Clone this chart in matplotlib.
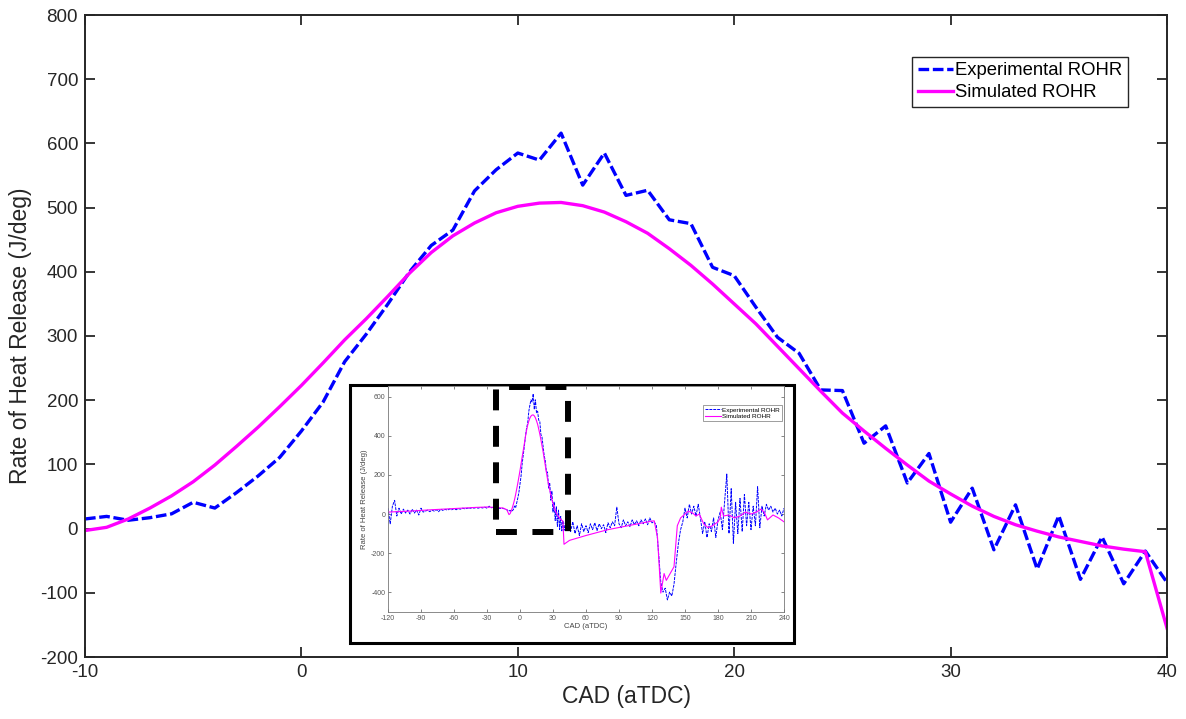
import matplotlib
matplotlib.use('Agg')
import matplotlib.pyplot as plt
import numpy as np
from matplotlib.patches import Rectangle

plt.rcParams['font.family'] = ['Liberation Sans', 'DejaVu Sans']
plt.rcParams['axes.unicode_minus'] = False

# main window, -10..40 CAD
cad = list(range(-10, 41))
exp_rohr = [15, 19, 13, 17, 23, 41, 32, 56, 82, 111,
            152, 197, 260, 303, 350, 400, 441, 465, 526, 559,
            585, 574, 616, 535, 585, 519, 527, 481, 475, 407,
            394, 345, 298, 273, 216, 215, 133, 160, 71, 117,
            10, 63, -33, 37, -63, 20, -79, -13, -86, -35, -84]
sim_rohr = [-3, 2, 15, 32, 51, 73, 99, 128, 158, 190,
            223, 258, 294, 327, 362, 398, 430, 456, 476, 492,
            502, 507, 508, 503, 493, 478, 460, 436, 410, 381,
            350, 319, 284, 249, 214, 180, 152, 125, 99, 74,
            54, 35, 19, 6, -4, -13, -20, -27, -32, -36, -155]

# inset: rest of the cycle
pre_cad = list(range(-120, -10, 2))
pre_exp = [30, -50, 40, 70, -10, 30, 0, 25, 5, 20,
           0, 25, 5, 20, -5, 30, 10, 15, 20, 12,
           20, 15, 22, 12, 25, 18, 24, 20, 26, 22,
           28, 22, 27, 25, 30, 26, 30, 28, 32, 30,
           33, 30, 34, 31, 35, 30, 40, 32, 35, 30,
           32, 28, 30, 26, 22]
post_cad = list(range(42, 241, 2))
post_exp = [-20, -60, -90, -40, -100, -60, -110, -50, -90, -60,
            -95, -50, -80, -45, -85, -50, -75, -55, -95, -45,
            -70, -40, -60, 35, -50, -70, -30, -60, -40, -65,
            -30, -55, -35, -60, -30, -50, -25, -55, -20, -45,
            -40, -60, -200, -350, -400, -380, -440, -400, -420, -360,
            -250, -150, -80, -40, 30, -20, 50, 0, 40, -10,
            50, -20, -100, -40, -120, -50, -90, -20, -120, -30,
            10, -80, 60, 205, -100, 130, -150, 60, -100, 80,
            -90, 100, -60, 60, -80, 40, -60, 140, -70, 40,
            -10, 50, 20, 40, 10, 30, 0, 20, -10, 30]
pre_sim_cad = [-120, -100, -80, -60, -40, -30, -20, -15, -12]
pre_sim = [10, 15, 22, 28, 34, 36, 33, 30, 22]
post_sim_cad = [45, 60, 80, 100, 120, 122, 125, 128, 131, 133,
                137, 140, 143, 146, 150, 153, 157, 160, 163, 167,
                171, 175, 180, 182, 183, 185, 190, 195, 200, 205,
                210, 215, 219, 222, 225, 230, 235, 240]
post_sim = [-135, -110, -80, -58, -36, -35, -120, -405, -305, -340,
            -300, -270, -60, -20, 0, 15, 5, -10, 0, -50,
            -70, -60, -40, -20, 35, -10, -5, -20, -10, 10,
            0, 10, 25, 10, -30, -5, -20, -40]

blue = '#0000ff'
mag = '#ff00ff'
dark = '#262626'

fig = plt.figure(figsize=(11.86, 7.19), dpi=100)
ax = fig.add_axes([85/1186, 62/719, 1082/1186, 642/719])

ax.plot(cad, exp_rohr, color=blue, lw=2.4, linestyle=(0, (3.2, 1.1)), label='Experimental ROHR')
ax.plot(cad, sim_rohr, color=mag, lw=2.4, label='Simulated ROHR')
ax.set_xlim(-10, 40)
ax.set_ylim(-200, 800)
ax.set_xticks(range(-10, 41, 10))
ax.set_yticks(range(-200, 801, 100))
ax.tick_params(direction='in', length=7, width=1.3, colors=dark, labelsize=13.5,
               top=True, right=True, pad=5)
for s in ax.spines.values():
    s.set_color(dark)
    s.set_linewidth(1.4)
ax.set_xlabel('CAD (aTDC)', fontsize=16.5, color=dark, labelpad=3)
ax.set_ylabel('Rate of Heat Release (J/deg)', fontsize=16.5, color=dark, labelpad=6)
leg = ax.legend(loc='upper right', bbox_to_anchor=(0.964, 0.935), fontsize=13.3,
                handlelength=1.9, handletextpad=0.12, borderpad=0.3, borderaxespad=0,
                labelspacing=0.28, fancybox=False, framealpha=1)
leg.get_frame().set_edgecolor(dark)
leg.get_frame().set_linewidth(1.0)

# inset picture with outer frame
fig.add_artist(Rectangle((350/1186, 76/719), 444/1186, 258/719, transform=fig.transFigure,
                         facecolor='white', edgecolor='black', lw=2.2, zorder=3))
ins = fig.add_axes([388/1186, 107/719, 396/1186, 226/719], zorder=4)
in_cad = pre_cad + cad + post_cad
in_exp = pre_exp + exp_rohr + post_exp
in_sim_cad = pre_sim_cad + cad + post_sim_cad
in_sim = pre_sim + sim_rohr + post_sim
ins.plot(in_cad, in_exp, color=blue, lw=0.7, linestyle=(0, (3, 1)), label='Experimental ROHR')
ins.plot(in_sim_cad, in_sim, color=mag, lw=0.8, label='Simulated ROHR')
ins.set_xlim(-120, 240)
ins.set_ylim(-502, 656)
ins.set_xticks(range(-120, 241, 30))
ins.set_yticks(range(-400, 601, 200))
ins.tick_params(direction='in', length=2.5, width=0.5, colors='#555555', labelsize=5,
                top=True, right=True, pad=2)
for s in ins.spines.values():
    s.set_color('#777777')
    s.set_linewidth(0.6)
ins.set_xlabel('CAD (aTDC)', fontsize=5.5, color='#444444', labelpad=1)
ins.set_ylabel('Rate of Heat Release (J/deg)', fontsize=5.5, color='#444444', labelpad=2)
il = ins.legend(loc='upper right', bbox_to_anchor=(0.995, 0.915), fontsize=4.6,
                handlelength=2.5, handletextpad=0.2, borderpad=0.3, labelspacing=0.2,
                fancybox=False, framealpha=1, borderaxespad=0)
il.get_frame().set_edgecolor('#777777')
il.get_frame().set_linewidth(0.5)

# dashed box marking the zoomed window
ins.add_patch(Rectangle((-22, -92), 66, 742, fill=False, edgecolor='black', lw=4.3,
                        linestyle=(0, (3.5, 2.6)), clip_on=False, zorder=6))

fig.savefig('out.png', dpi=100)
